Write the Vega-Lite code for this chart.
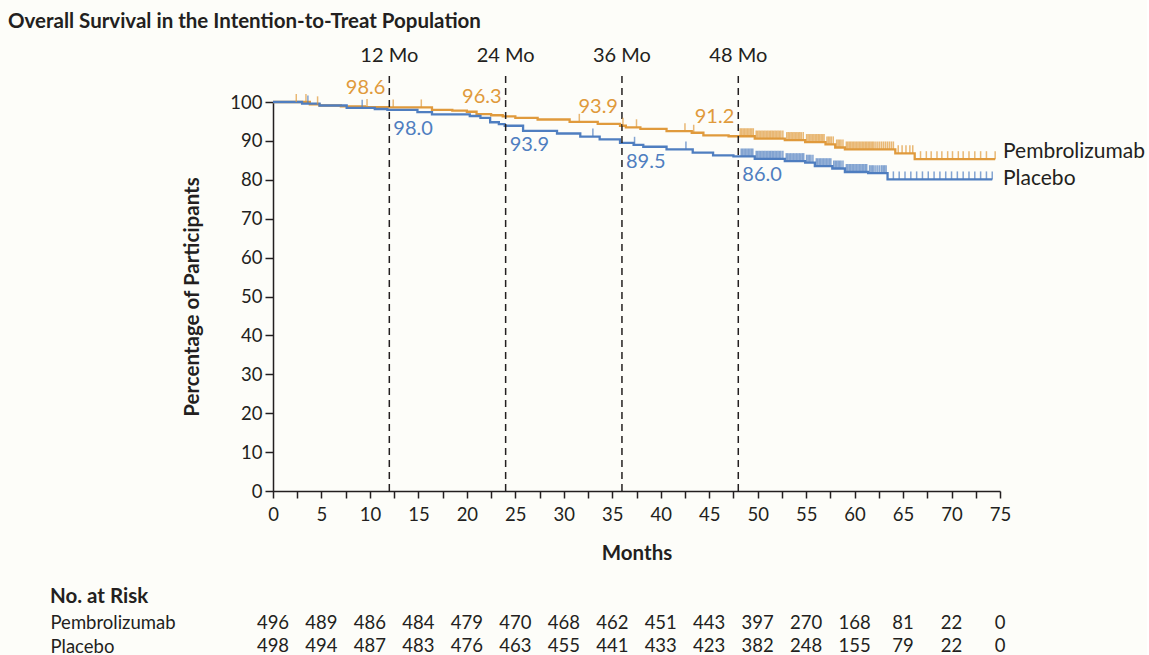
{
  "$schema": "https://vega.github.io/schema/vega-lite/v6.json",
  "background": "#fdfdf9",
  "padding": {"left": 8, "top": 11, "right": 2, "bottom": 0},
  "title": {"text": "Overall Survival in the Intention-to-Treat Population", "anchor": "start", "fontSize": 20.5, "fontWeight": "bold", "font": "Lato", "color": "#231f20", "dx": -42, "offset": 14},
  "config": {
    "font": "Lato",
    "view": {"stroke": null},
    "axis": {"labelFont": "Lato", "titleFont": "Lato", "labelColor": "#231f20", "titleColor": "#231f20", "domainColor": "#231f20", "tickColor": "#231f20", "grid": false},
    "title": {"font": "Lato", "color": "#231f20"}
  },
  "datasets": {
    "landmarks": [
      {"m": 12, "lab": "12 Mo"}, {"m": 24, "lab": "24 Mo"}, {"m": 36, "lab": "36 Mo"}, {"m": 48, "lab": "48 Mo"}
    ],
    "landmarkValues": [
      {"arm": "Pembrolizumab", "m": 12, "v": 98.6, "lab": "98.6"},
      {"arm": "Pembrolizumab", "m": 24, "v": 96.3, "lab": "96.3"},
      {"arm": "Pembrolizumab", "m": 36, "v": 93.9, "lab": "93.9"},
      {"arm": "Pembrolizumab", "m": 48, "v": 91.2, "lab": "91.2"},
      {"arm": "Placebo", "m": 12, "v": 98.0, "lab": "98.0"},
      {"arm": "Placebo", "m": 24, "v": 93.9, "lab": "93.9"},
      {"arm": "Placebo", "m": 36, "v": 89.5, "lab": "89.5"},
      {"arm": "Placebo", "m": 48, "v": 86.0, "lab": "86.0"}
    ],
    "ends": [
      {"arm": "Pembrolizumab", "v": 85.3},
      {"arm": "Placebo", "v": 80.1}
    ],
    "atrisk": [
      {"arm": "Pembrolizumab", "t": 0, "n": 496}, {"arm": "Pembrolizumab", "t": 5, "n": 489}, {"arm": "Pembrolizumab", "t": 10, "n": 486}, {"arm": "Pembrolizumab", "t": 15, "n": 484},
      {"arm": "Pembrolizumab", "t": 20, "n": 479}, {"arm": "Pembrolizumab", "t": 25, "n": 470}, {"arm": "Pembrolizumab", "t": 30, "n": 468}, {"arm": "Pembrolizumab", "t": 35, "n": 462},
      {"arm": "Pembrolizumab", "t": 40, "n": 451}, {"arm": "Pembrolizumab", "t": 45, "n": 443}, {"arm": "Pembrolizumab", "t": 50, "n": 397}, {"arm": "Pembrolizumab", "t": 55, "n": 270},
      {"arm": "Pembrolizumab", "t": 60, "n": 168}, {"arm": "Pembrolizumab", "t": 65, "n": 81}, {"arm": "Pembrolizumab", "t": 70, "n": 22}, {"arm": "Pembrolizumab", "t": 75, "n": 0},
      {"arm": "Placebo", "t": 0, "n": 498}, {"arm": "Placebo", "t": 5, "n": 494}, {"arm": "Placebo", "t": 10, "n": 487}, {"arm": "Placebo", "t": 15, "n": 483},
      {"arm": "Placebo", "t": 20, "n": 476}, {"arm": "Placebo", "t": 25, "n": 463}, {"arm": "Placebo", "t": 30, "n": 455}, {"arm": "Placebo", "t": 35, "n": 441},
      {"arm": "Placebo", "t": 40, "n": 433}, {"arm": "Placebo", "t": 45, "n": 423}, {"arm": "Placebo", "t": 50, "n": 382}, {"arm": "Placebo", "t": 55, "n": 248},
      {"arm": "Placebo", "t": 60, "n": 155}, {"arm": "Placebo", "t": 65, "n": 79}, {"arm": "Placebo", "t": 70, "n": 22}, {"arm": "Placebo", "t": 75, "n": 0}
    ],
    "curves": [
      {"arm": "Pembrolizumab", "t": 0, "v": 100, "c": 0},
      {"arm": "Pembrolizumab", "t": 2.4, "v": 100, "c": 1},
      {"arm": "Pembrolizumab", "t": 3.4, "v": 100, "c": 1},
      {"arm": "Pembrolizumab", "t": 3.8, "v": 99.4, "c": 0},
      {"arm": "Pembrolizumab", "t": 4.6, "v": 99.4, "c": 1},
      {"arm": "Pembrolizumab", "t": 4.8, "v": 99.1, "c": 0},
      {"arm": "Pembrolizumab", "t": 7, "v": 98.9, "c": 0},
      {"arm": "Pembrolizumab", "t": 9.5, "v": 98.7, "c": 0},
      {"arm": "Pembrolizumab", "t": 9.7, "v": 98.7, "c": 1},
      {"arm": "Pembrolizumab", "t": 11.9, "v": 98.6, "c": 0},
      {"arm": "Pembrolizumab", "t": 12.4, "v": 98.6, "c": 1},
      {"arm": "Pembrolizumab", "t": 15.3, "v": 98.6, "c": 1},
      {"arm": "Pembrolizumab", "t": 16.4, "v": 98.0, "c": 0},
      {"arm": "Pembrolizumab", "t": 18.5, "v": 97.8, "c": 0},
      {"arm": "Pembrolizumab", "t": 20, "v": 97.5, "c": 0},
      {"arm": "Pembrolizumab", "t": 21, "v": 96.9, "c": 0},
      {"arm": "Pembrolizumab", "t": 22.5, "v": 96.6, "c": 0},
      {"arm": "Pembrolizumab", "t": 23.7, "v": 96.3, "c": 0},
      {"arm": "Pembrolizumab", "t": 25, "v": 95.9, "c": 0},
      {"arm": "Pembrolizumab", "t": 27.3, "v": 95.5, "c": 0},
      {"arm": "Pembrolizumab", "t": 30.6, "v": 94.9, "c": 0},
      {"arm": "Pembrolizumab", "t": 31.6, "v": 94.9, "c": 1},
      {"arm": "Pembrolizumab", "t": 33.5, "v": 94.4, "c": 0},
      {"arm": "Pembrolizumab", "t": 35.8, "v": 93.9, "c": 0},
      {"arm": "Pembrolizumab", "t": 36.1, "v": 93.9, "c": 1},
      {"arm": "Pembrolizumab", "t": 36.4, "v": 93.5, "c": 0},
      {"arm": "Pembrolizumab", "t": 37.5, "v": 93.5, "c": 1},
      {"arm": "Pembrolizumab", "t": 37.9, "v": 93.1, "c": 0},
      {"arm": "Pembrolizumab", "t": 40.6, "v": 92.5, "c": 0},
      {"arm": "Pembrolizumab", "t": 42.5, "v": 92.5, "c": 1},
      {"arm": "Pembrolizumab", "t": 43.2, "v": 92.1, "c": 0},
      {"arm": "Pembrolizumab", "t": 43.4, "v": 92.1, "c": 1},
      {"arm": "Pembrolizumab", "t": 44.4, "v": 91.4, "c": 0},
      {"arm": "Pembrolizumab", "t": 47, "v": 91.2, "c": 0},
      {"arm": "Pembrolizumab", "t": 48.2, "v": 91.2, "c": 1},
      {"arm": "Pembrolizumab", "t": 48.5, "v": 91.2, "c": 1},
      {"arm": "Pembrolizumab", "t": 48.8, "v": 91.2, "c": 1},
      {"arm": "Pembrolizumab", "t": 49.1, "v": 91.2, "c": 1},
      {"arm": "Pembrolizumab", "t": 49.4, "v": 91.2, "c": 1},
      {"arm": "Pembrolizumab", "t": 49.7, "v": 90.6, "c": 0},
      {"arm": "Pembrolizumab", "t": 50.0, "v": 90.6, "c": 1},
      {"arm": "Pembrolizumab", "t": 50.3, "v": 90.6, "c": 1},
      {"arm": "Pembrolizumab", "t": 50.6, "v": 90.6, "c": 1},
      {"arm": "Pembrolizumab", "t": 50.9, "v": 90.6, "c": 1},
      {"arm": "Pembrolizumab", "t": 51.2, "v": 90.6, "c": 1},
      {"arm": "Pembrolizumab", "t": 51.5, "v": 90.6, "c": 1},
      {"arm": "Pembrolizumab", "t": 51.8, "v": 90.6, "c": 1},
      {"arm": "Pembrolizumab", "t": 52.1, "v": 90.6, "c": 1},
      {"arm": "Pembrolizumab", "t": 52.4, "v": 90.6, "c": 1},
      {"arm": "Pembrolizumab", "t": 52.8, "v": 90.2, "c": 0},
      {"arm": "Pembrolizumab", "t": 53.0, "v": 90.2, "c": 1},
      {"arm": "Pembrolizumab", "t": 53.3, "v": 90.2, "c": 1},
      {"arm": "Pembrolizumab", "t": 53.6, "v": 90.2, "c": 1},
      {"arm": "Pembrolizumab", "t": 53.9, "v": 90.2, "c": 1},
      {"arm": "Pembrolizumab", "t": 54.2, "v": 90.2, "c": 1},
      {"arm": "Pembrolizumab", "t": 54.5, "v": 90.2, "c": 1},
      {"arm": "Pembrolizumab", "t": 54.9, "v": 89.7, "c": 0},
      {"arm": "Pembrolizumab", "t": 55.2, "v": 89.7, "c": 1},
      {"arm": "Pembrolizumab", "t": 55.5, "v": 89.7, "c": 1},
      {"arm": "Pembrolizumab", "t": 55.8, "v": 89.7, "c": 1},
      {"arm": "Pembrolizumab", "t": 56.1, "v": 89.7, "c": 1},
      {"arm": "Pembrolizumab", "t": 56.4, "v": 89.7, "c": 1},
      {"arm": "Pembrolizumab", "t": 56.7, "v": 89.7, "c": 1},
      {"arm": "Pembrolizumab", "t": 57.0, "v": 89.1, "c": 0},
      {"arm": "Pembrolizumab", "t": 57.3, "v": 89.1, "c": 1},
      {"arm": "Pembrolizumab", "t": 57.6, "v": 89.1, "c": 1},
      {"arm": "Pembrolizumab", "t": 58.0, "v": 88.3, "c": 0},
      {"arm": "Pembrolizumab", "t": 58.3, "v": 88.3, "c": 1},
      {"arm": "Pembrolizumab", "t": 58.6, "v": 88.3, "c": 1},
      {"arm": "Pembrolizumab", "t": 59.0, "v": 87.8, "c": 0},
      {"arm": "Pembrolizumab", "t": 59.3, "v": 87.8, "c": 1},
      {"arm": "Pembrolizumab", "t": 59.6, "v": 87.8, "c": 1},
      {"arm": "Pembrolizumab", "t": 59.9, "v": 87.8, "c": 1},
      {"arm": "Pembrolizumab", "t": 60.2, "v": 87.8, "c": 1},
      {"arm": "Pembrolizumab", "t": 60.5, "v": 87.8, "c": 1},
      {"arm": "Pembrolizumab", "t": 60.8, "v": 87.8, "c": 1},
      {"arm": "Pembrolizumab", "t": 61.1, "v": 87.8, "c": 1},
      {"arm": "Pembrolizumab", "t": 61.4, "v": 87.8, "c": 1},
      {"arm": "Pembrolizumab", "t": 61.7, "v": 87.8, "c": 1},
      {"arm": "Pembrolizumab", "t": 62.0, "v": 87.8, "c": 1},
      {"arm": "Pembrolizumab", "t": 62.4, "v": 87.8, "c": 1},
      {"arm": "Pembrolizumab", "t": 62.8, "v": 87.8, "c": 1},
      {"arm": "Pembrolizumab", "t": 63.2, "v": 87.8, "c": 1},
      {"arm": "Pembrolizumab", "t": 63.6, "v": 87.8, "c": 1},
      {"arm": "Pembrolizumab", "t": 64.0, "v": 87.8, "c": 1},
      {"arm": "Pembrolizumab", "t": 64.2, "v": 86.8, "c": 0},
      {"arm": "Pembrolizumab", "t": 64.5, "v": 86.8, "c": 1},
      {"arm": "Pembrolizumab", "t": 64.9, "v": 86.8, "c": 1},
      {"arm": "Pembrolizumab", "t": 65.3, "v": 86.8, "c": 1},
      {"arm": "Pembrolizumab", "t": 65.7, "v": 86.8, "c": 1},
      {"arm": "Pembrolizumab", "t": 66.0, "v": 86.8, "c": 1},
      {"arm": "Pembrolizumab", "t": 66.2, "v": 85.3, "c": 0},
      {"arm": "Pembrolizumab", "t": 66.8, "v": 85.3, "c": 1},
      {"arm": "Pembrolizumab", "t": 67.4, "v": 85.3, "c": 1},
      {"arm": "Pembrolizumab", "t": 67.9, "v": 85.3, "c": 1},
      {"arm": "Pembrolizumab", "t": 68.5, "v": 85.3, "c": 1},
      {"arm": "Pembrolizumab", "t": 69.0, "v": 85.3, "c": 1},
      {"arm": "Pembrolizumab", "t": 69.6, "v": 85.3, "c": 1},
      {"arm": "Pembrolizumab", "t": 70.1, "v": 85.3, "c": 1},
      {"arm": "Pembrolizumab", "t": 70.7, "v": 85.3, "c": 1},
      {"arm": "Pembrolizumab", "t": 71.2, "v": 85.3, "c": 1},
      {"arm": "Pembrolizumab", "t": 71.8, "v": 85.3, "c": 1},
      {"arm": "Pembrolizumab", "t": 72.4, "v": 85.3, "c": 1},
      {"arm": "Pembrolizumab", "t": 73.0, "v": 85.3, "c": 1},
      {"arm": "Pembrolizumab", "t": 73.6, "v": 85.3, "c": 1},
      {"arm": "Pembrolizumab", "t": 74.5, "v": 85.3, "c": 1},
      {"arm": "Pembrolizumab", "t": 48.35, "v": 91.2, "c": 1},
      {"arm": "Pembrolizumab", "t": 48.65, "v": 91.2, "c": 1},
      {"arm": "Pembrolizumab", "t": 48.95, "v": 91.2, "c": 1},
      {"arm": "Pembrolizumab", "t": 49.25, "v": 91.2, "c": 1},
      {"arm": "Pembrolizumab", "t": 49.55, "v": 91.2, "c": 1},
      {"arm": "Pembrolizumab", "t": 49.85, "v": 90.6, "c": 1},
      {"arm": "Pembrolizumab", "t": 50.15, "v": 90.6, "c": 1},
      {"arm": "Pembrolizumab", "t": 50.45, "v": 90.6, "c": 1},
      {"arm": "Pembrolizumab", "t": 50.75, "v": 90.6, "c": 1},
      {"arm": "Pembrolizumab", "t": 51.05, "v": 90.6, "c": 1},
      {"arm": "Pembrolizumab", "t": 51.35, "v": 90.6, "c": 1},
      {"arm": "Pembrolizumab", "t": 51.65, "v": 90.6, "c": 1},
      {"arm": "Pembrolizumab", "t": 51.95, "v": 90.6, "c": 1},
      {"arm": "Pembrolizumab", "t": 52.25, "v": 90.6, "c": 1},
      {"arm": "Pembrolizumab", "t": 52.6, "v": 90.6, "c": 1},
      {"arm": "Pembrolizumab", "t": 53.15, "v": 90.2, "c": 1},
      {"arm": "Pembrolizumab", "t": 53.45, "v": 90.2, "c": 1},
      {"arm": "Pembrolizumab", "t": 53.75, "v": 90.2, "c": 1},
      {"arm": "Pembrolizumab", "t": 54.05, "v": 90.2, "c": 1},
      {"arm": "Pembrolizumab", "t": 54.35, "v": 90.2, "c": 1},
      {"arm": "Pembrolizumab", "t": 54.7, "v": 90.2, "c": 1},
      {"arm": "Pembrolizumab", "t": 55.05, "v": 89.7, "c": 1},
      {"arm": "Pembrolizumab", "t": 55.35, "v": 89.7, "c": 1},
      {"arm": "Pembrolizumab", "t": 55.65, "v": 89.7, "c": 1},
      {"arm": "Pembrolizumab", "t": 55.95, "v": 89.7, "c": 1},
      {"arm": "Pembrolizumab", "t": 56.25, "v": 89.7, "c": 1},
      {"arm": "Pembrolizumab", "t": 56.55, "v": 89.7, "c": 1},
      {"arm": "Pembrolizumab", "t": 56.85, "v": 89.7, "c": 1},
      {"arm": "Pembrolizumab", "t": 57.15, "v": 89.1, "c": 1},
      {"arm": "Pembrolizumab", "t": 57.45, "v": 89.1, "c": 1},
      {"arm": "Pembrolizumab", "t": 57.8, "v": 89.1, "c": 1},
      {"arm": "Pembrolizumab", "t": 58.15, "v": 88.3, "c": 1},
      {"arm": "Pembrolizumab", "t": 58.45, "v": 88.3, "c": 1},
      {"arm": "Pembrolizumab", "t": 58.8, "v": 88.3, "c": 1},
      {"arm": "Pembrolizumab", "t": 59.15, "v": 87.8, "c": 1},
      {"arm": "Pembrolizumab", "t": 59.45, "v": 87.8, "c": 1},
      {"arm": "Pembrolizumab", "t": 59.75, "v": 87.8, "c": 1},
      {"arm": "Pembrolizumab", "t": 60.05, "v": 87.8, "c": 1},
      {"arm": "Pembrolizumab", "t": 60.35, "v": 87.8, "c": 1},
      {"arm": "Pembrolizumab", "t": 60.65, "v": 87.8, "c": 1},
      {"arm": "Pembrolizumab", "t": 60.95, "v": 87.8, "c": 1},
      {"arm": "Pembrolizumab", "t": 61.25, "v": 87.8, "c": 1},
      {"arm": "Pembrolizumab", "t": 61.55, "v": 87.8, "c": 1},
      {"arm": "Pembrolizumab", "t": 61.85, "v": 87.8, "c": 1},
      {"arm": "Pembrolizumab", "t": 62.2, "v": 87.8, "c": 1},
      {"arm": "Pembrolizumab", "t": 62.6, "v": 87.8, "c": 1},
      {"arm": "Pembrolizumab", "t": 63.0, "v": 87.8, "c": 1},
      {"arm": "Pembrolizumab", "t": 63.4, "v": 87.8, "c": 1},
      {"arm": "Pembrolizumab", "t": 63.8, "v": 87.8, "c": 1},
      {"arm": "Placebo", "t": 0, "v": 100, "c": 0},
      {"arm": "Placebo", "t": 3, "v": 99.6, "c": 0},
      {"arm": "Placebo", "t": 3.6, "v": 99.6, "c": 1},
      {"arm": "Placebo", "t": 4.8, "v": 99.1, "c": 0},
      {"arm": "Placebo", "t": 7.6, "v": 98.5, "c": 0},
      {"arm": "Placebo", "t": 9.2, "v": 98.5, "c": 1},
      {"arm": "Placebo", "t": 10.5, "v": 98.2, "c": 0},
      {"arm": "Placebo", "t": 11.8, "v": 98.0, "c": 0},
      {"arm": "Placebo", "t": 14.9, "v": 97.4, "c": 0},
      {"arm": "Placebo", "t": 16.4, "v": 96.8, "c": 0},
      {"arm": "Placebo", "t": 20.3, "v": 96.4, "c": 0},
      {"arm": "Placebo", "t": 21.4, "v": 95.9, "c": 0},
      {"arm": "Placebo", "t": 22.4, "v": 94.8, "c": 0},
      {"arm": "Placebo", "t": 23.3, "v": 94.3, "c": 0},
      {"arm": "Placebo", "t": 23.9, "v": 93.9, "c": 0},
      {"arm": "Placebo", "t": 25.8, "v": 92.6, "c": 0},
      {"arm": "Placebo", "t": 29.3, "v": 91.9, "c": 0},
      {"arm": "Placebo", "t": 31.7, "v": 91.1, "c": 0},
      {"arm": "Placebo", "t": 33, "v": 91.1, "c": 1},
      {"arm": "Placebo", "t": 33.7, "v": 90.4, "c": 0},
      {"arm": "Placebo", "t": 35.8, "v": 89.5, "c": 0},
      {"arm": "Placebo", "t": 37.2, "v": 89.0, "c": 0},
      {"arm": "Placebo", "t": 37.3, "v": 89.0, "c": 1},
      {"arm": "Placebo", "t": 38.2, "v": 88.5, "c": 0},
      {"arm": "Placebo", "t": 40.6, "v": 87.8, "c": 0},
      {"arm": "Placebo", "t": 42.6, "v": 87.8, "c": 1},
      {"arm": "Placebo", "t": 43.3, "v": 87.0, "c": 0},
      {"arm": "Placebo", "t": 45.4, "v": 86.3, "c": 0},
      {"arm": "Placebo", "t": 47.5, "v": 86.0, "c": 0},
      {"arm": "Placebo", "t": 48.3, "v": 86.0, "c": 1},
      {"arm": "Placebo", "t": 48.6, "v": 86.0, "c": 1},
      {"arm": "Placebo", "t": 48.9, "v": 86.0, "c": 1},
      {"arm": "Placebo", "t": 49.2, "v": 86.0, "c": 1},
      {"arm": "Placebo", "t": 49.5, "v": 86.0, "c": 1},
      {"arm": "Placebo", "t": 49.7, "v": 85.4, "c": 0},
      {"arm": "Placebo", "t": 50.0, "v": 85.4, "c": 1},
      {"arm": "Placebo", "t": 50.3, "v": 85.4, "c": 1},
      {"arm": "Placebo", "t": 50.6, "v": 85.4, "c": 1},
      {"arm": "Placebo", "t": 50.9, "v": 85.4, "c": 1},
      {"arm": "Placebo", "t": 51.2, "v": 85.4, "c": 1},
      {"arm": "Placebo", "t": 51.5, "v": 85.4, "c": 1},
      {"arm": "Placebo", "t": 51.8, "v": 85.4, "c": 1},
      {"arm": "Placebo", "t": 52.1, "v": 85.4, "c": 1},
      {"arm": "Placebo", "t": 52.4, "v": 85.4, "c": 1},
      {"arm": "Placebo", "t": 52.8, "v": 84.8, "c": 0},
      {"arm": "Placebo", "t": 53.1, "v": 84.8, "c": 1},
      {"arm": "Placebo", "t": 53.4, "v": 84.8, "c": 1},
      {"arm": "Placebo", "t": 53.7, "v": 84.8, "c": 1},
      {"arm": "Placebo", "t": 54.0, "v": 84.8, "c": 1},
      {"arm": "Placebo", "t": 54.3, "v": 84.8, "c": 1},
      {"arm": "Placebo", "t": 54.6, "v": 84.8, "c": 1},
      {"arm": "Placebo", "t": 54.9, "v": 84.4, "c": 0},
      {"arm": "Placebo", "t": 55.2, "v": 84.4, "c": 1},
      {"arm": "Placebo", "t": 55.5, "v": 84.4, "c": 1},
      {"arm": "Placebo", "t": 55.9, "v": 83.5, "c": 0},
      {"arm": "Placebo", "t": 56.2, "v": 83.5, "c": 1},
      {"arm": "Placebo", "t": 56.5, "v": 83.5, "c": 1},
      {"arm": "Placebo", "t": 56.8, "v": 83.5, "c": 1},
      {"arm": "Placebo", "t": 57.1, "v": 83.5, "c": 1},
      {"arm": "Placebo", "t": 57.4, "v": 83.5, "c": 1},
      {"arm": "Placebo", "t": 57.7, "v": 82.9, "c": 0},
      {"arm": "Placebo", "t": 58.0, "v": 82.9, "c": 1},
      {"arm": "Placebo", "t": 58.3, "v": 82.9, "c": 1},
      {"arm": "Placebo", "t": 58.6, "v": 82.9, "c": 1},
      {"arm": "Placebo", "t": 59.0, "v": 82.0, "c": 0},
      {"arm": "Placebo", "t": 59.3, "v": 82.0, "c": 1},
      {"arm": "Placebo", "t": 59.6, "v": 82.0, "c": 1},
      {"arm": "Placebo", "t": 59.9, "v": 82.0, "c": 1},
      {"arm": "Placebo", "t": 60.2, "v": 82.0, "c": 1},
      {"arm": "Placebo", "t": 60.5, "v": 82.0, "c": 1},
      {"arm": "Placebo", "t": 60.8, "v": 82.0, "c": 1},
      {"arm": "Placebo", "t": 61.1, "v": 82.0, "c": 1},
      {"arm": "Placebo", "t": 61.4, "v": 81.7, "c": 0},
      {"arm": "Placebo", "t": 61.7, "v": 81.7, "c": 1},
      {"arm": "Placebo", "t": 62.0, "v": 81.7, "c": 1},
      {"arm": "Placebo", "t": 62.4, "v": 81.7, "c": 1},
      {"arm": "Placebo", "t": 62.8, "v": 81.7, "c": 1},
      {"arm": "Placebo", "t": 63.1, "v": 81.7, "c": 1},
      {"arm": "Placebo", "t": 63.4, "v": 80.1, "c": 0},
      {"arm": "Placebo", "t": 64.0, "v": 80.1, "c": 1},
      {"arm": "Placebo", "t": 64.6, "v": 80.1, "c": 1},
      {"arm": "Placebo", "t": 65.2, "v": 80.1, "c": 1},
      {"arm": "Placebo", "t": 65.8, "v": 80.1, "c": 1},
      {"arm": "Placebo", "t": 66.4, "v": 80.1, "c": 1},
      {"arm": "Placebo", "t": 67.0, "v": 80.1, "c": 1},
      {"arm": "Placebo", "t": 67.6, "v": 80.1, "c": 1},
      {"arm": "Placebo", "t": 68.2, "v": 80.1, "c": 1},
      {"arm": "Placebo", "t": 68.8, "v": 80.1, "c": 1},
      {"arm": "Placebo", "t": 69.4, "v": 80.1, "c": 1},
      {"arm": "Placebo", "t": 70.0, "v": 80.1, "c": 1},
      {"arm": "Placebo", "t": 70.6, "v": 80.1, "c": 1},
      {"arm": "Placebo", "t": 71.2, "v": 80.1, "c": 1},
      {"arm": "Placebo", "t": 71.8, "v": 80.1, "c": 1},
      {"arm": "Placebo", "t": 72.4, "v": 80.1, "c": 1},
      {"arm": "Placebo", "t": 73.0, "v": 80.1, "c": 1},
      {"arm": "Placebo", "t": 73.6, "v": 80.1, "c": 1},
      {"arm": "Placebo", "t": 74.2, "v": 80.1, "c": 1},
      {"arm": "Placebo", "t": 48.45, "v": 86.0, "c": 1},
      {"arm": "Placebo", "t": 48.75, "v": 86.0, "c": 1},
      {"arm": "Placebo", "t": 49.05, "v": 86.0, "c": 1},
      {"arm": "Placebo", "t": 49.35, "v": 86.0, "c": 1},
      {"arm": "Placebo", "t": 49.85, "v": 85.4, "c": 1},
      {"arm": "Placebo", "t": 50.15, "v": 85.4, "c": 1},
      {"arm": "Placebo", "t": 50.45, "v": 85.4, "c": 1},
      {"arm": "Placebo", "t": 50.75, "v": 85.4, "c": 1},
      {"arm": "Placebo", "t": 51.05, "v": 85.4, "c": 1},
      {"arm": "Placebo", "t": 51.35, "v": 85.4, "c": 1},
      {"arm": "Placebo", "t": 51.65, "v": 85.4, "c": 1},
      {"arm": "Placebo", "t": 51.95, "v": 85.4, "c": 1},
      {"arm": "Placebo", "t": 52.25, "v": 85.4, "c": 1},
      {"arm": "Placebo", "t": 52.6, "v": 85.4, "c": 1},
      {"arm": "Placebo", "t": 52.95, "v": 84.8, "c": 1},
      {"arm": "Placebo", "t": 53.25, "v": 84.8, "c": 1},
      {"arm": "Placebo", "t": 53.55, "v": 84.8, "c": 1},
      {"arm": "Placebo", "t": 53.85, "v": 84.8, "c": 1},
      {"arm": "Placebo", "t": 54.15, "v": 84.8, "c": 1},
      {"arm": "Placebo", "t": 54.45, "v": 84.8, "c": 1},
      {"arm": "Placebo", "t": 54.75, "v": 84.8, "c": 1},
      {"arm": "Placebo", "t": 55.05, "v": 84.4, "c": 1},
      {"arm": "Placebo", "t": 55.35, "v": 84.4, "c": 1},
      {"arm": "Placebo", "t": 55.7, "v": 84.4, "c": 1},
      {"arm": "Placebo", "t": 56.05, "v": 83.5, "c": 1},
      {"arm": "Placebo", "t": 56.35, "v": 83.5, "c": 1},
      {"arm": "Placebo", "t": 56.65, "v": 83.5, "c": 1},
      {"arm": "Placebo", "t": 56.95, "v": 83.5, "c": 1},
      {"arm": "Placebo", "t": 57.25, "v": 83.5, "c": 1},
      {"arm": "Placebo", "t": 57.55, "v": 83.5, "c": 1},
      {"arm": "Placebo", "t": 57.85, "v": 82.9, "c": 1},
      {"arm": "Placebo", "t": 58.15, "v": 82.9, "c": 1},
      {"arm": "Placebo", "t": 58.45, "v": 82.9, "c": 1},
      {"arm": "Placebo", "t": 58.8, "v": 82.9, "c": 1},
      {"arm": "Placebo", "t": 59.15, "v": 82.0, "c": 1},
      {"arm": "Placebo", "t": 59.45, "v": 82.0, "c": 1},
      {"arm": "Placebo", "t": 59.75, "v": 82.0, "c": 1},
      {"arm": "Placebo", "t": 60.05, "v": 82.0, "c": 1},
      {"arm": "Placebo", "t": 60.35, "v": 82.0, "c": 1},
      {"arm": "Placebo", "t": 60.65, "v": 82.0, "c": 1},
      {"arm": "Placebo", "t": 60.95, "v": 82.0, "c": 1},
      {"arm": "Placebo", "t": 61.25, "v": 82.0, "c": 1},
      {"arm": "Placebo", "t": 61.55, "v": 81.7, "c": 1},
      {"arm": "Placebo", "t": 61.85, "v": 81.7, "c": 1},
      {"arm": "Placebo", "t": 62.2, "v": 81.7, "c": 1},
      {"arm": "Placebo", "t": 62.6, "v": 81.7, "c": 1},
      {"arm": "Placebo", "t": 62.95, "v": 81.7, "c": 1},
      {"arm": "Placebo", "t": 63.25, "v": 81.7, "c": 1}
    ]
  },
  "spacing": 23,
  "resolve": {"scale": {"x": "independent", "y": "independent"}},
  "vconcat": [
    {
      "width": 727,
      "height": 389,
      "layer": [
        {
          "data": {"name": "curves"},
          "mark": {"type": "line", "interpolate": "step-after", "strokeWidth": 2.3},
          "encoding": {
            "x": {"field": "t", "type": "quantitative", "scale": {"domain": [0, 75], "nice": false, "zero": false},
              "axis": {"title": "Months", "values": [0, 2.5, 5, 7.5, 10, 12.5, 15, 17.5, 20, 22.5, 25, 27.5, 30, 32.5, 35, 37.5, 40, 42.5, 45, 47.5, 50, 52.5, 55, 57.5, 60, 62.5, 65, 67.5, 70, 72.5, 75], "tickCount": 40,
                "labelExpr": "datum.value % 5 === 0 ? '' + datum.value : ''", "labelOverlap": false, "labelFlush": false,
                "labelFontSize": 18.5, "tickSize": 7, "tickWidth": 1.5, "domainWidth": 1.5, "labelPadding": 7,
                "titleFontSize": 20.5, "titleFontWeight": "bold", "titlePadding": 20}},
            "y": {"field": "v", "type": "quantitative", "scale": {"domain": [0, 100], "nice": false},
              "axis": {"title": "Percentage of Participants", "values": [0, 10, 20, 30, 40, 50, 60, 70, 80, 90, 100], "tickCount": 20, "labelOverlap": false,
                "labelFontSize": 18.5, "tickSize": 8, "tickWidth": 1.5, "domainWidth": 1.5, "labelPadding": 3,
                "titleFontSize": 20.5, "titleFontWeight": "bold", "titlePadding": 27}},
            "color": {"field": "arm", "type": "nominal", "scale": {"domain": ["Pembrolizumab", "Placebo"], "range": ["#e09a3c", "#4f7ec0"]}, "legend": null}
          }
        },
        {
          "data": {"name": "landmarks"},
          "mark": {"type": "rule", "strokeDash": [7, 5], "strokeWidth": 1.5, "color": "#231f20"},
          "encoding": {
            "x": {"field": "m", "type": "quantitative"},
            "y": {"datum": 0, "type": "quantitative"},
            "y2": {"datum": 108}
          }
        },
        {
          "data": {"name": "landmarks"},
          "mark": {"type": "text", "fontSize": 20, "color": "#231f20", "baseline": "middle"},
          "encoding": {
            "x": {"field": "m", "type": "quantitative"},
            "y": {"datum": 111.8, "type": "quantitative"},
            "text": {"field": "lab"}
          }
        },
        {
          "data": {"name": "curves"},
          "transform": [{"filter": "datum.c == 1"}],
          "mark": {"type": "tick", "orient": "vertical", "size": 8, "thickness": 1.5, "yOffset": -4},
          "encoding": {
            "x": {"field": "t", "type": "quantitative"},
            "y": {"field": "v", "type": "quantitative"},
            "color": {"field": "arm", "type": "nominal", "legend": null}
          }
        },
        {
          "data": {"name": "landmarkValues"},
          "transform": [{"filter": "datum.arm === 'Pembrolizumab'"}],
          "mark": {"type": "text", "fontSize": 20, "align": "right", "baseline": "middle", "dx": -4, "dy": -19, "color": "#e09a3c"},
          "encoding": {
            "x": {"field": "m", "type": "quantitative"},
            "y": {"field": "v", "type": "quantitative"},
            "text": {"field": "lab"}
          }
        },
        {
          "data": {"name": "landmarkValues"},
          "transform": [{"filter": "datum.arm === 'Placebo'"}],
          "mark": {"type": "text", "fontSize": 20, "align": "left", "baseline": "middle", "dx": 4, "dy": 19, "color": "#4f7ec0"},
          "encoding": {
            "x": {"field": "m", "type": "quantitative"},
            "y": {"field": "v", "type": "quantitative"},
            "text": {"field": "lab"}
          }
        },
        {
          "data": {"name": "ends"},
          "transform": [{"filter": "datum.arm === 'Pembrolizumab'"}],
          "mark": {"type": "text", "fontSize": 21, "align": "left", "baseline": "middle", "dx": 3, "dy": -7, "color": "#231f20"},
          "encoding": {
            "x": {"datum": 75, "type": "quantitative"},
            "y": {"field": "v", "type": "quantitative"},
            "text": {"field": "arm"}
          }
        },
        {
          "data": {"name": "ends"},
          "transform": [{"filter": "datum.arm === 'Placebo'"}],
          "mark": {"type": "text", "fontSize": 21, "align": "left", "baseline": "middle", "dx": 3, "dy": 0, "color": "#231f20"},
          "encoding": {
            "x": {"datum": 75, "type": "quantitative"},
            "y": {"field": "v", "type": "quantitative"},
            "text": {"field": "arm"}
          }
        }
      ]
    },
    {
      "width": 727,
      "height": 33,
      "title": {"text": "No. at Risk", "anchor": "start", "frame": "bounds", "fontSize": 20.5, "fontWeight": "bold", "offset": 6},
      "data": {"name": "atrisk"},
      "mark": {"type": "text", "fontSize": 18.5, "color": "#231f20", "baseline": "middle"},
      "encoding": {
        "x": {"field": "t", "type": "quantitative", "scale": {"domain": [0, 75], "nice": false}, "axis": null},
        "y": {"field": "arm", "type": "nominal", "scale": {"type": "point", "padding": 0.2, "domain": ["Pembrolizumab", "Placebo"]},
          "axis": {"title": null, "ticks": false, "domain": false, "labelAlign": "left", "labelPadding": 223, "labelFontSize": 18.5}},
        "text": {"field": "n", "type": "quantitative"}
      }
    }
  ]
}
